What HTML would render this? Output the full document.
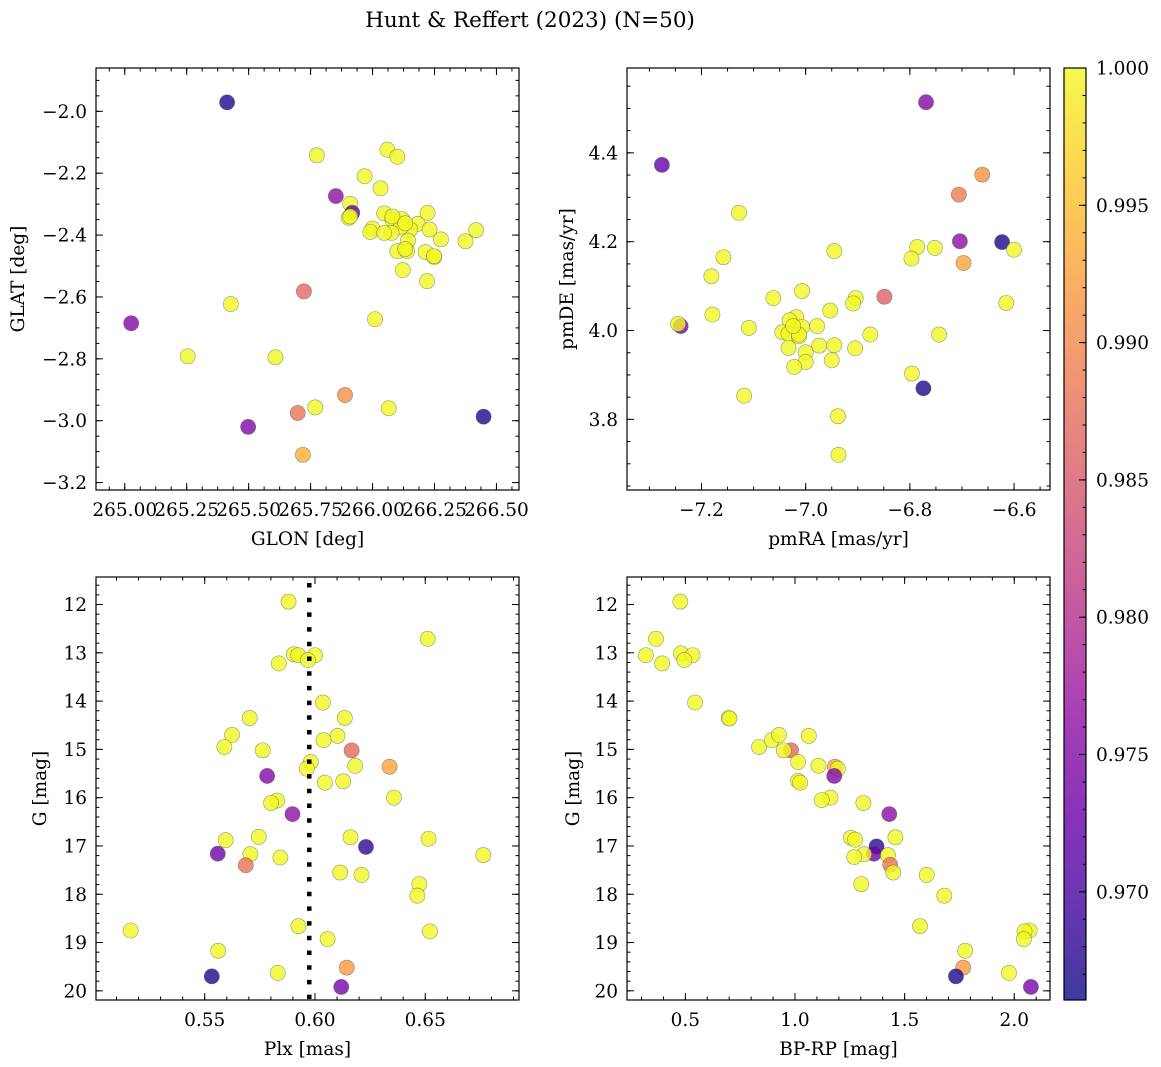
<!DOCTYPE html>
<html><head><meta charset="utf-8">
<style>
html,body{margin:0;padding:0;background:#fff;}
svg{display:block;font-family:"DejaVu Serif","Liberation Serif",serif;}
</style></head>
<body>
<svg id="fig" width="1161" height="1067" viewBox="0 0 1161 1067" xmlns="http://www.w3.org/2000/svg">
<defs>
<linearGradient id="plasma" x1="0" y1="1" x2="0" y2="0">
<stop offset="0" stop-color="#0d0887"/><stop offset="0.1" stop-color="#41049d"/><stop offset="0.2" stop-color="#6a00a8"/><stop offset="0.3" stop-color="#8f0da4"/><stop offset="0.4" stop-color="#b12a90"/><stop offset="0.5" stop-color="#cc4778"/><stop offset="0.6" stop-color="#e16462"/><stop offset="0.7" stop-color="#f2844b"/><stop offset="0.8" stop-color="#fca636"/><stop offset="0.9" stop-color="#fcce25"/><stop offset="1" stop-color="#f0f921"/>
</linearGradient>
</defs>
<text x="530" y="27" text-anchor="middle" font-size="21.5">Hunt &amp; Reffert (2023) (N=50)</text>
</svg>
<script>
// ---- data ----
const glon = [265.413,265.775,266.060,266.100,265.968,266.032,265.852,265.910,265.918,265.904,266.047,266.080,266.118,266.222,266.182,266.152,266.114,266.000,265.991,266.077,266.230,266.418,266.375,266.276,266.143,266.100,266.139,266.132,266.214,266.249,266.122,266.220,265.723,265.428,266.010,265.026,265.254,265.608,265.889,265.769,266.065,265.698,265.498,266.448,265.719,266.080,266.132,266.248,265.910,266.047];
const glat = [-1.971,-2.142,-2.124,-2.147,-2.210,-2.249,-2.274,-2.299,-2.328,-2.344,-2.330,-2.350,-2.348,-2.328,-2.364,-2.382,-2.375,-2.379,-2.390,-2.393,-2.382,-2.384,-2.420,-2.414,-2.418,-2.452,-2.452,-2.445,-2.455,-2.471,-2.513,-2.549,-2.582,-2.623,-2.672,-2.685,-2.792,-2.795,-2.917,-2.957,-2.960,-2.975,-3.020,-2.987,-3.110,-2.340,-2.362,-2.468,-2.340,-2.393];
const probPos = [0.967,1,1,1,1,1,0.976,1,0.972,1,1,1,1,1,1,1,1,1,1,1,1,1,1,1,1,1,1,1,1,1,1,1,0.987,1,1,0.975,1,1,0.991,1,1,0.988,0.975,0.967,0.994,1,1,1,1,1];

const pmra = [-6.769,-7.276,-6.661,-6.706,-7.128,-6.704,-6.623,-6.600,-6.945,-6.786,-6.752,-6.797,-6.697,-7.158,-7.181,-7.007,-7.062,-6.904,-6.909,-6.849,-6.615,-6.953,-7.179,-7.240,-7.245,-7.109,-7.018,-7.031,-6.978,-7.007,-7.045,-7.033,-7.013,-6.876,-6.744,-7.033,-6.974,-6.945,-6.905,-7.000,-7.000,-6.950,-7.022,-6.796,-6.774,-7.118,-6.938,-6.937,-7.013,-7.024];
const pmde = [4.514,4.373,4.351,4.306,4.265,4.201,4.199,4.182,4.179,4.188,4.186,4.162,4.152,4.165,4.122,4.089,4.073,4.073,4.061,4.076,4.062,4.045,4.036,4.010,4.015,4.006,4.030,4.023,4.010,4.008,3.996,3.993,3.987,3.991,3.991,3.961,3.966,3.967,3.960,3.951,3.929,3.933,3.918,3.903,3.870,3.853,3.807,3.720,3.991,4.010];
const probPm = [0.975,0.972,0.991,0.989,1,0.976,0.967,1,1,1,1,1,0.993,1,1,1,1,1,1,0.986,1,1,1,0.974,1,1,1,1,1,1,1,1,1,1,1,1,1,1,1,1,1,1,1,1,0.967,1,1,1,1,1];

const plx = [0.5880,0.6511,0.5904,0.5924,0.6000,0.5968,0.5836,0.6036,0.5704,0.6135,0.5624,0.6102,0.6039,0.5589,0.5763,0.6166,0.5981,0.5963,0.6182,0.6338,0.5783,0.6045,0.6128,0.6358,0.5828,0.5801,0.5898,0.5595,0.5745,0.6161,0.6515,0.6231,0.5559,0.5707,0.5843,0.6763,0.5686,0.6114,0.6211,0.6473,0.6464,0.5164,0.5925,0.6521,0.6057,0.5561,0.6144,0.5831,0.5532,0.6119];
const gPlx = [11.94,12.71,13.03,13.05,13.05,13.15,13.22,14.03,14.35,14.35,14.70,14.72,14.81,14.95,15.02,15.02,15.26,15.40,15.34,15.36,15.55,15.69,15.66,16.00,16.06,16.11,16.34,16.88,16.81,16.82,16.85,17.02,17.16,17.17,17.24,17.19,17.40,17.55,17.60,17.79,18.03,18.75,18.66,18.77,18.93,19.17,19.52,19.63,19.70,19.92];
const probPlx = [1,1,1,1,1,1,1,1,1,1,1,1,1,1,1,0.987,1,1,1,0.993,0.975,1,1,1,1,1,0.976,1,1,1,1,0.968,0.973,1,1,1,0.988,1,1,1,1,1,1,1,1,1,0.992,1,0.967,0.974];
const meanPlx = [0.5974];

const bprp = [0.477,0.366,0.320,0.480,0.533,0.495,0.394,0.544,0.698,0.701,0.836,0.894,0.927,1.063,0.982,0.949,1.014,1.107,1.182,1.195,1.179,1.014,1.023,1.162,1.122,1.312,1.430,1.255,1.274,1.458,1.372,1.360,1.315,1.270,1.424,1.434,1.448,1.601,1.302,1.681,1.570,2.070,2.047,2.044,1.776,1.767,1.976,1.734,2.076];
const gCmd = [11.94,12.71,13.05,13.01,13.05,13.15,13.22,14.03,14.35,14.36,14.95,14.81,14.70,14.72,15.02,15.02,15.26,15.34,15.36,15.40,15.55,15.65,15.69,16.00,16.05,16.11,16.34,16.83,16.87,16.82,17.01,17.16,17.17,17.23,17.19,17.39,17.55,17.60,17.79,18.03,18.66,18.75,18.77,18.93,19.17,19.52,19.63,19.70,19.92];
const probCmd = [1,1,1,1,1,1,1,1,1,1,1,1,1,1,0.987,1,1,1,0.993,1,0.975,1,1,1,1,1,0.976,1,1,1,0.968,0.973,1,1,1,0.988,1,1,1,1,1,1,1,1,1,0.992,1,0.967,0.974];

const p1XTicks = [265.00,265.25,265.50,265.75,266.00,266.25,266.50];
const p1YTicks = [-2.0,-2.2,-2.4,-2.6,-2.8,-3.0,-3.2];
const p2XTicks = [-7.2,-7.0,-6.8,-6.6];
const p2YTicks = [3.8,4.0,4.2,4.4];
const p3XTicks = [0.55,0.60,0.65];
const gTicks = [12,13,14,15,16,17,18,19,20];
const p4XTicks = [0.5,1.0,1.5,2.0];
const cbTicks = [0.970,0.975,0.980,0.985,0.990,0.995,1.000];
const cbRange = [0.96606,1.0];

// ---- drawing ----
const NS='http://www.w3.org/2000/svg';
const svg=document.getElementById('fig');
const FS=18.5;
function mk(tag,attrs,parent){const e=document.createElementNS(NS,tag);for(const k in attrs)e.setAttribute(k,attrs[k]);(parent||svg).appendChild(e);return e;}
const stops=[[13,8,135],[65,4,157],[106,0,168],[143,13,164],[177,42,144],[204,71,120],[225,100,98],[242,132,75],[252,166,54],[252,206,37],[240,249,33]];
function plasma(p){let t=(p-cbRange[0])/(cbRange[1]-cbRange[0]);t=Math.max(0,Math.min(1,t))*10;const i=Math.min(9,Math.floor(t)),f=t-i;const a=stops[i],b=stops[i+1];return 'rgb('+a.map((v,k)=>Math.round(v+(b[k]-v)*f)).join(',')+')';}
function fmt(v,d){return v.toFixed(d).replace('-','\u2212');}

function panel(o){
  const g=mk('g',{});
  
  
  const sx=v=>o.x0+(v-o.xl[0])/(o.xl[1]-o.xl[0])*(o.x1-o.x0);
  const sy=v=>o.y0+(v-o.yl[0])/(o.yl[1]-o.yl[0])*(o.y1-o.y0);
  const tg=mk('g',{stroke:'#000','stroke-width':1},g);
  
  
  const xmin=Math.min(...o.xl),xmax=Math.max(...o.xl),ymin=Math.min(...o.yl),ymax=Math.max(...o.yl);
  function minors(lo,hi,step){const r=[];for(let v=Math.ceil(lo/step-1e-6)*step;v<=hi+1e-9;v+=step)r.push(v);return r;}
  minors(xmin,xmax,o.xminor).forEach(v=>{const x=sx(v);mk('line',{x1:x,x2:x,y1:o.y1,y2:o.y1-3.5},tg);mk('line',{x1:x,x2:x,y1:o.y0,y2:o.y0+3.5},tg);});
  minors(ymin,ymax,o.yminor).forEach(v=>{const y=sy(v);mk('line',{x1:o.x0,x2:o.x0+3.5,y1:y,y2:y},tg);mk('line',{x1:o.x1,x2:o.x1-3.5,y1:y,y2:y},tg);});
  o.xt.forEach(v=>{const x=sx(v);mk('line',{x1:x,x2:x,y1:o.y1,y2:o.y1-7},tg);mk('line',{x1:x,x2:x,y1:o.y0,y2:o.y0+7},tg);
    const t=mk('text',{x:x,y:o.y1+26,'text-anchor':'middle','font-size':FS},g);t.textContent=fmt(v,o.xd);
    });
  o.yt.forEach(v=>{const y=sy(v);mk('line',{x1:o.x0,x2:o.x0+7,y1:y,y2:y},tg);mk('line',{x1:o.x1,x2:o.x1-7,y1:y,y2:y},tg);
    const t=mk('text',{x:o.x0-9,y:y+6.5,'text-anchor':'end','font-size':FS},g);t.textContent=fmt(v,o.yd);
    });
  const pg=mk('g',{},g);
  
  
  o.xs.forEach((v,i)=>{const c=mk('circle',{cx:sx(v),cy:sy(o.ys[i]),r:7.6,fill:plasma(o.ps[i]),'fill-opacity':0.8,stroke:'#555','stroke-opacity':0.6,'stroke-width':0.6},pg);
    });
  if(o.vline){o.vline.forEach(v=>{const l=mk('line',{x1:sx(v),x2:sx(v),y1:o.y0+6,y2:o.y1,stroke:'#000','stroke-width':4.5,'stroke-dasharray':'4.5 10.2'},g);
    });}
  const fr=mk('rect',{x:o.x0,y:o.y0,width:o.x1-o.x0,height:o.y1-o.y0,fill:'none',stroke:'#000','stroke-width':1.2},g);
  
  const xl=mk('text',{x:(o.x0+o.x1)/2,y:o.y1+55,'text-anchor':'middle','font-size':FS},g);xl.textContent=o.xlab;
  
  const yx=o.ylabx,yy=(o.y0+o.y1)/2;
  const yl=mk('text',{x:yx,y:yy,'text-anchor':'middle','font-size':FS,transform:'rotate(-90 '+yx+' '+yy+')'},g);yl.textContent=o.ylab;
  
}

panel({name:'glon-glat-panel',x0:96,x1:519,y0:68,y1:490,xl:[264.884,266.591],yl:[-1.860,-3.224],xt:p1XTicks,yt:p1YTicks,xd:2,yd:1,xminor:0.0625,yminor:0.05,xs:glon,ys:glat,ps:probPos,xlab:'GLON [deg]',ylab:'GLAT [deg]',ylabx:24});
panel({name:'proper-motion-panel',x0:627,x1:1050,y0:68,y1:490,xl:[-7.343,-6.531],yl:[4.591,3.641],xt:p2XTicks,yt:p2YTicks,xd:1,yd:1,xminor:0.05,yminor:0.05,xs:pmra,ys:pmde,ps:probPm,xlab:'pmRA [mas/yr]',ylab:'pmDE [mas/yr]',ylabx:573});
panel({name:'parallax-mag-panel',x0:96,x1:519,y0:577,y1:1000,xl:[0.5007,0.6925],yl:[11.43,20.19],xt:p3XTicks,yt:gTicks,xd:2,yd:0,xminor:0.01,yminor:0.2,xs:plx,ys:gPlx,ps:probPlx,vline:meanPlx,xlab:'Plx [mas]',ylab:'G [mag]',ylabx:46});
panel({name:'cmd-panel',x0:627,x1:1050,y0:577,y1:1000,xl:[0.2338,2.163],yl:[11.43,20.19],xt:p4XTicks,yt:gTicks,xd:1,yd:0,xminor:0.1,yminor:0.2,xs:bprp,ys:gCmd,ps:probCmd,xlab:'BP-RP [mag]',ylab:'G [mag]',ylabx:579});

// colorbar
(function(){
  const x0=1064,x1=1086,y0=68,y1=1000;
  const g=mk('g',{});
  
  
  mk('rect',{x:x0,y:y0,width:x1-x0,height:y1-y0,fill:'url(#plasma)','fill-opacity':0.8},g);
  const sy=v=>y1-(v-cbRange[0])/(cbRange[1]-cbRange[0])*(y1-y0);
  for(let v=0.967;v<=1.0+1e-9;v+=0.001){const y=sy(v);mk('line',{x1:x1,x2:x1-3.5,y1:y,y2:y,stroke:'#000','stroke-width':1},g);}
  cbTicks.forEach(v=>{const y=sy(v);mk('line',{x1:x1,x2:x1-7,y1:y,y2:y,stroke:'#000','stroke-width':1},g);
    const t=mk('text',{x:x1+10,y:y+6.5,'font-size':FS},g);t.textContent=v.toFixed(3);
    });
  mk('rect',{x:x0,y:y0,width:x1-x0,height:y1-y0,fill:'none',stroke:'#000','stroke-width':1.2},g);
})();
</script>
</body></html>
